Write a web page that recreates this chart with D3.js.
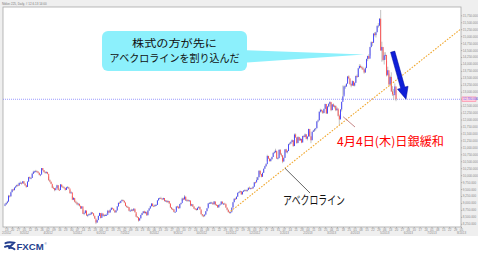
<!DOCTYPE html>
<html lang="ja">
<head>
<meta charset="UTF-8">
<script src="https://d3js.org/d3.v7.min.js"></script>
<title>nikkei daily</title>
<style>
  body { margin: 0; background: #fff; }
  svg text { font-family: "Liberation Sans", Arial, sans-serif; }
  svg .jp { font-family: "Noto Sans CJK JP", sans-serif; }
</style>
</head>
<body>
<script>
var width = 478, height = 256;

// daily candles from 2012/2/10
// (open = previous close)
var firstOpen = 8900;
var closes = [
  8947,8999,9052,9260,9238,9384,9485,9463,9554,9595,9647,9633,9722,9723,
  9707,9777,9698,9637,9576,9768,9929,9889,9899,10050,10123,10129,10141,10127,10085,10011,10018,10255,10182,10114,10083,
  10109,10050,9819,9767,9688,9546,9538,9458,9524,9637,9470,9464,9667,9588,9561,9542,9467,9561,9561,9520,
  9350,9380,9119,9181,9045,9009,8953,8973,8900,8801,8876,8611,8633,8729,8556,8563,8593,8593,8657,8633,8542,
  8440,8295,8382,8533,8639,8459,8624,8536,8568,8568,8569,8721,8655,8752,8824,8798,8734,8663,8730,8874,9006,
  9003,9066,9104,9079,9020,8896,8857,8851,8720,8724,8755,8726,8795,8669,8508,8488,8365,8443,8566,8635,8695,
  8640,8679,8555,8726,8803,8881,8978,8891,8885,8929,8929,9092,9162,9171,9156,9131,9178,9070,9085,9033,9069,8983,8839,
  8783,8775,8679,8680,8871,8869,8807,8959,8995,9159,9123,9232,9086,9110,9069,9091,8906,8949,8870,
  8797,8786,8746,8824,8863,8769,8596,8546,8534,8577,8701,8806,8982,9002,9010,9014,8954,9055,8933,8929,8841,8928,
  8946,9051,8975,8975,8972,8837,8757,8676,8661,8664,8829,9024,9153,9142,9222,9366,9388,9423,9308,9400,9446,
  9458,9432,9468,9545,9527,9533,9525,9581,9742,9737,9828,9923,10160,10039,9940,10080,10230,10322,10395,
  10688,10599,10508,10578,10652,10801,10830,10879,10600,10609,10913,10747,10709,10487,10620,10926,10824,10866,11113,11138,
  11191,11260,11046,11463,11357,11153,11369,11251,11307,11173,11407,11372,11468,11309,11385,11662,11398,11254,11559,
  11606,11652,11683,11932,11968,12283,12349,12314,12239,12381,12560,12220,12468,12560,12635,12338,12546,12471,12493,12336,12397,
  12135,12003,12362,12634,12833,13192,13192,13288,13549,13485,13275,13221,13382,13220,13316,13568,13529,13843,13926,13884,13860,
  13799,13694,13850,14180,14285,14191,14607,14782,14758,15096,15037,15138,15360,15381,15627,14483,
  14612,14143,14311,14326,13589,13774,13262,13533,13014,12904,12877,13190,12730
];
var highs = [
  8990,9025,9080,9290,9275,9410,9500,9510,9560,9620,9660,9690,9730,9770,
  9740,9790,9790,9700,9620,9780,9940,9950,9920,10080,10160,10160,10190,10170,10140,10090,10040,10255,10250,10180,10140,
  10140,10120,9950,9850,9760,9640,9590,9520,9560,9660,9640,9520,9680,9650,9620,9590,9530,9580,9610,9580,
  9470,9420,9250,9210,9150,9080,9040,9000,8960,8870,8890,8760,8680,8740,8700,8600,8620,8630,8680,8670,8610,
  8520,8380,8400,8550,8650,8580,8650,8600,8590,8600,8620,8750,8720,8770,8840,8830,8790,8720,8750,8890,9010,
  9050,9080,9136,9120,9080,8980,8910,8890,8830,8760,8790,8780,8810,8760,8610,8530,8460,8460,8580,8650,8710,
  8720,8700,8640,8740,8820,8900,8990,8980,8920,8950,8960,9100,9180,9200,9222,9170,9190,9150,9110,9090,9090,9060,8950,
  8850,8820,8760,8700,8880,8900,8860,8970,9020,9190,9190,9288,9200,9130,9120,9110,9020,8970,8960,
  8880,8820,8800,8840,8880,8850,8730,8600,8580,8600,8710,8820,8990,9030,9040,9040,9000,9070,9040,8960,8920,8940,
  8970,9060,9040,9000,9010,8930,8820,8760,8700,8690,8840,9040,9160,9190,9240,9370,9410,9450,9420,9420,9460,
  9490,9480,9490,9560,9590,9550,9560,9600,9750,9770,9930,9940,10170,10160,10040,10100,10240,10340,10433,
  10734,10700,10600,10600,10670,10820,10880,10950,10850,10650,10920,10930,10800,10720,10640,10940,10950,10900,11130,11180,
  11220,11290,11250,11500,11500,11360,11400,11380,11340,11300,11420,11440,11500,11470,11400,11670,11570,11390,11570,
  11630,11680,11700,11950,12000,12290,12390,12370,12340,12400,12570,12450,12490,12590,12650,12600,12560,12580,12530,12500,12450,
  12350,12180,12380,12650,13225,13220,13250,13300,13570,13590,13470,13300,13410,13390,13350,13580,13620,13860,13990,13980,13930,
  13900,13820,13900,14190,14300,14350,14620,14810,14800,15100,15150,15160,15390,15470,15650,15942,
  14800,14600,14420,14420,14100,13900,13650,13580,13700,13200,13100,13300,13050
];
var lows = [
  8880,8930,8975,9040,9195,9230,9390,9440,9450,9530,9580,9600,9610,9700,
  9660,9690,9680,9610,9545,9590,9760,9870,9850,9900,10040,10090,10100,10090,10060,9990,9960,10070,10160,10090,10050,
  10050,10030,9800,9740,9670,9530,9500,9420,9470,9560,9460,9440,9530,9560,9540,9510,9440,9480,9530,9490,
  9340,9330,9100,9100,9020,8980,8920,8900,8870,8780,8780,8600,8560,8630,8530,8490,8540,8570,8580,8600,8520,
  8420,8238,8290,8400,8540,8440,8520,8510,8500,8530,8540,8640,8630,8660,8740,8770,8710,8640,8650,8730,8870,
  8980,8990,9060,9050,8990,8880,8830,8820,8700,8680,8700,8700,8710,8650,8490,8460,8328,8370,8450,8560,8620,
  8620,8600,8540,8580,8720,8790,8880,8870,8850,8870,8900,8940,9090,9130,9140,9100,9110,9050,9040,9010,9000,8960,8820,
  8760,8740,8660,8640,8750,8830,8790,8830,8940,9060,9100,9140,9070,9040,9050,9040,8880,8880,8860,
  8780,8750,8720,8740,8800,8750,8580,8510,8488,8500,8590,8720,8840,8960,8970,8960,8930,8950,8910,8900,8820,8830,
  8900,8950,8950,8930,8940,8820,8730,8650,8620,8619,8700,8850,9040,9110,9130,9230,9340,9380,9290,9300,9390,
  9420,9410,9400,9460,9510,9480,9500,9520,9590,9700,9800,9820,9930,10010,9920,9950,10090,10230,10300,
  10500,10580,10480,10480,10550,10660,10770,10800,10580,10560,10620,10720,10660,10430,10500,10630,10800,10780,10870,11080,
  11120,11190,11020,11060,11340,11130,11170,11230,11240,11150,11180,11350,11380,11290,11250,11400,11380,11150,11270,
  11550,11560,11600,11700,11900,11980,12250,12260,12200,12220,12400,12200,12200,12440,12470,12300,12340,12450,12400,12300,12320,
  12110,11805,12050,12290,12700,12900,13100,13170,13300,13450,13250,13160,13230,13200,13190,13340,13500,13530,13840,13850,13800,
  13780,13650,13680,13880,14100,14170,14300,14600,14650,14800,14990,14950,15150,15300,15360,14483,
  14080,14100,13980,14150,13550,13640,13240,13200,12990,12850,12700,12950,12660
];
var startDate = "2012-02-10";
var totalSlots = 387;          // trading days incl. the empty space on the right
var yTicks = [8250,8500,8750,9000,9250,9500,9750,10000,10250,10500,10750,11000,11250,11500,11750,
              12000,12250,12500,12750,13000,13250,13500,13750,14000,14250,14500,14750,15000,15250,15500,15750];

// アベクロライン (index, value)
var trendFrom = [191, 8700];
var trendTo = [386, 15264];
var bojIndex = 285, bojValue = 12100;
var peakIndex = 318, arrowFromValue = 14440;

var calloutLines = ["株式の方が先に", "アベクロラインを割り込んだ"];
var bojLabel = "4月4日(木)日銀緩和";
var trendLabel = "アベクロライン";

var svg = d3.select("body").append("svg").attr("width", width).attr("height", height);

// plot area
var plot = {left: 3, top: 7, right: 461, bottom: 227};

svg.append("rect").attr("width", width).attr("height", 236).attr("fill", "#efefef");
svg.append("rect").attr("y", 236).attr("width", width).attr("height", height - 236).attr("fill", "#fff");
svg.append("rect")
   .attr("x", plot.left).attr("y", plot.top)
   .attr("width", plot.right - plot.left).attr("height", plot.bottom - plot.top)
   .attr("fill", "#fff").attr("stroke", "#a8a8a8").attr("stroke-width", 0.8);

svg.append("text").attr("x", 2).attr("y", 4.6)
   .style("font-size", "3px").attr("fill", "#777")
   .text("Nikkei 225, Daily, # 12.6.13 14:00");

svg.append("clipPath").attr("id", "clip").append("rect")
   .attr("x", plot.left).attr("y", plot.top)
   .attr("width", plot.right - plot.left).attr("height", plot.bottom - plot.top);

// dates (weekdays)
var dates = [];
var day = d3.timeParse("%Y-%m-%d")(startDate);
while (dates.length < totalSlots) {
  if (day.getDay() % 6 !== 0) dates.push(day);
  day = d3.timeDay.offset(day, 1);
}

var x = d3.scaleLinear().domain([0, totalSlots - 1]).range([5, 461]);
var y = d3.scaleLinear().domain([8250, 15750]).range([223.8, 15.3]);

var candles = closes.map(function(c, i) {
  return {i: i, o: i ? closes[i - 1] : firstOpen, c: c, h: highs[i], l: lows[i]};
});

var g = svg.append("g").attr("clip-path", "url(#clip)");

// current price line
var last = closes[closes.length - 1];
g.append("line")
 .attr("x1", plot.left).attr("x2", plot.right)
 .attr("y1", y(last)).attr("y2", y(last))
 .attr("stroke", "#8080ff").attr("stroke-width", 0.8).attr("stroke-dasharray", "1,1");

// candles
g.selectAll(".wick").data(candles).enter().append("line")
 .attr("class", "wick")
 .attr("x1", function(d) { return x(d.i); }).attr("x2", function(d) { return x(d.i); })
 .attr("y1", function(d) { return y(d.h); }).attr("y2", function(d) { return y(d.l); })
 .attr("stroke", "#b4b4b4").attr("stroke-width", 0.8);

g.selectAll(".body").data(candles).enter().append("rect")
 .attr("class", "body")
 .attr("x", function(d) { return x(d.i) - 0.45; })
 .attr("width", 0.9)
 .attr("y", function(d) { return y(Math.max(d.o, d.c)); })
 .attr("height", function(d) { return Math.max(0.8, Math.abs(y(d.o) - y(d.c))); })
 .attr("fill", function(d) { return d.c >= d.o ? "#3c3cff" : "#ff4a4a"; });

// trend line
g.append("path")
 .datum([trendFrom, trendTo])
 .attr("d", d3.line().x(function(d) { return x(d[0]); }).y(function(d) { return y(d[1]); }))
 .attr("fill", "none").attr("stroke", "#f0a830").attr("stroke-width", 1.1)
 .attr("stroke-dasharray", "1.6,1.4");

// right axis
var yAxis = svg.append("g").attr("transform", "translate(" + plot.right + ",0)")
  .call(d3.axisRight(y).tickValues(yTicks).tickFormat(d3.format(",.3f")).tickSize(1.2).tickPadding(0.6));
yAxis.select(".domain").remove();
yAxis.selectAll("line").attr("stroke", "#aaa");
yAxis.selectAll("text").style("font-size", "3px").attr("fill", "#888");

// last price tag
svg.append("rect").attr("x", 462).attr("y", y(last) - 2.3).attr("width", 14).attr("height", 4.6)
   .attr("fill", "#ffd0dc").attr("stroke", "#ff7090").attr("stroke-width", 0.5);
svg.append("text").attr("x", 463).attr("y", y(last) + 1.1)
   .style("font-size", "3px").attr("fill", "#6060ff").text(d3.format(",.3f")(last));

// bottom axis: weekly days + months
var mondays = d3.range(totalSlots).filter(function(i) { return dates[i].getDay() === 1; });
var monthStarts = mondays.filter(function(i, k) {
  return k === 0 || dates[mondays[k - 1]].getMonth() !== dates[i].getMonth();
});

var xAxis = svg.append("g").attr("transform", "translate(0," + plot.bottom + ")")
  .call(d3.axisBottom(x).tickValues(mondays)
        .tickFormat(function(i) { return d3.timeFormat("%d")(dates[i]); })
        .tickSize(1.2).tickPadding(0.9));
xAxis.select(".domain").remove();
xAxis.selectAll("line").attr("stroke", "#aaa");
xAxis.selectAll("text").style("font-size", "3px").attr("fill", "#888");

var mAxis = svg.append("g").attr("transform", "translate(0," + plot.bottom + ")")
  .call(d3.axisBottom(x).tickValues(monthStarts)
        .tickFormat(function(i) { return d3.timeFormat("%-m/%Y")(dates[i]); })
        .tickSize(0).tickPadding(5.2));
mAxis.select(".domain").remove();
mAxis.selectAll("text").style("font-size", "3px").attr("fill", "#888");

// callout bubble
var bubble = svg.append("g");
bubble.append("path")
  .attr("d", "M240,50 L" + x(peakIndex - 14) + "," + 54.5 + " L240,63 Z")
  .attr("fill", "#8cf0fc");
bubble.append("rect")
  .attr("x", 102).attr("y", 31).attr("width", 145).attr("height", 40).attr("rx", 6)
  .attr("fill", "#8cf0fc");
bubble.selectAll("text").data(calloutLines).enter().append("text")
  .attr("class", "jp")
  .attr("x", 174.5).attr("y", function(d, i) { return 46.5 + i * 15.5; })
  .attr("text-anchor", "middle")
  .attr("textLength", function(d, i) { return i ? 130 : 85; })
  .attr("lengthAdjust", "spacingAndGlyphs")
  .style("font-size", "10.5px").attr("fill", "#111")
  .text(function(d) { return d; });

// 日銀緩和 annotation
var bx = 337, by = 146;
svg.append("line")
  .attr("x1", bx + 18).attr("y1", by - 19)
  .attr("x2", x(bojIndex) + 1.5).attr("y2", y(bojValue))
  .attr("stroke", "#c07878").attr("stroke-width", 0.9);
svg.append("text").attr("class", "jp")
  .attr("x", bx).attr("y", by)
  .attr("textLength", 107).attr("lengthAdjust", "spacingAndGlyphs")
  .style("font-size", "12px").attr("fill", "#ff0000")
  .text(bojLabel);

// アベクロライン label
var tIdx = 237;
var tVal = trendFrom[1] + (tIdx - trendFrom[0]) / (trendTo[0] - trendFrom[0]) * (trendTo[1] - trendFrom[1]);
var lx = 283, ly = 204.5;
svg.append("line")
  .attr("x1", x(tIdx)).attr("y1", y(tVal))
  .attr("x2", lx + 27).attr("y2", ly - 11.5)
  .attr("stroke", "#555").attr("stroke-width", 0.9);
svg.append("text").attr("class", "jp")
  .attr("x", lx).attr("y", ly)
  .attr("textLength", 62).attr("lengthAdjust", "spacingAndGlyphs")
  .style("font-size", "12px").attr("fill", "#111")
  .text(trendLabel);

// blue arrow
var a0 = [x(peakIndex) + 12, y(arrowFromValue)];
var a1 = [x(closes.length - 1) + 10, y(last)];
var dx = a1[0] - a0[0], dy = a1[1] - a0[1], len = Math.sqrt(dx * dx + dy * dy);
var ux = dx / len, uy = dy / len, nx = -uy, ny = ux;
var neck = [a1[0] - ux * 12, a1[1] - uy * 12];
var pts = [
  [a0[0] + nx * 2.2, a0[1] + ny * 2.2],
  [neck[0] + nx * 2.2, neck[1] + ny * 2.2],
  [neck[0] + nx * 5.5, neck[1] + ny * 5.5],
  a1,
  [neck[0] - nx * 5.5, neck[1] - ny * 5.5],
  [neck[0] - nx * 2.2, neck[1] - ny * 2.2],
  [a0[0] - nx * 2.2, a0[1] - ny * 2.2]
];
svg.append("polygon")
  .attr("points", pts.map(function(p) { return p.join(","); }).join(" "))
  .attr("fill", "#0e1ed8").attr("stroke", "#000a9a").attr("stroke-width", 0.5);

// FXCM logo
var logo = svg.append("g").attr("transform", "translate(5,242)");
logo.append("path")
  .attr("d", "M0.5,1.2 Q4,-0.6 9,0.8 L3.5,6.2 Q7,5.2 9.5,7.2 M0,4.8 Q3,3.4 5.5,4.6")
  .attr("fill", "none").attr("stroke", "#243f8f").attr("stroke-width", 2).attr("stroke-linecap", "round");
logo.append("text").attr("x", 11.5).attr("y", 7.6)
  .style("font-size", "9.6px").style("font-weight", "bold").attr("fill", "#243f8f")
  .text("FXCM");
logo.append("text").attr("x", 39.5).attr("y", 2.6)
  .style("font-size", "3px").attr("fill", "#243f8f").text("®");
</script>
</body>
</html>
